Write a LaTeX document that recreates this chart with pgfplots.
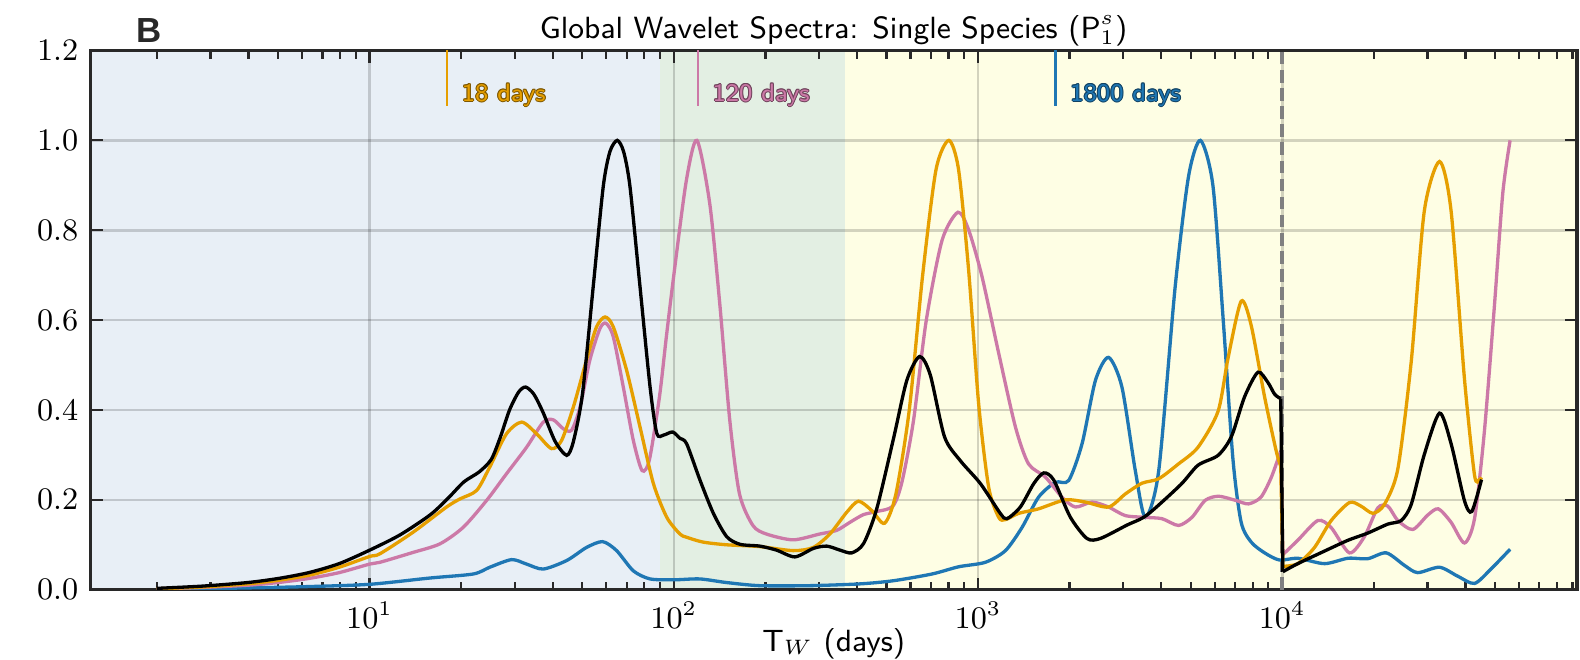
\documentclass[border=0pt]{standalone}
\usepackage{fontspec}
\usepackage{pgfplots}
\usepackage{pgfplotstable}
\pgfplotsset{compat=1.18}
\newfontfamily\panelfont{Liberation Sans}

\definecolor{corange}{RGB}{230,159,0}
\definecolor{cpink}{RGB}{204,121,167}
\definecolor{cblue}{RGB}{31,119,180}
\definecolor{bgblue}{RGB}{232,239,246}
\definecolor{bggreen}{RGB}{227,239,227}
\definecolor{bgyellow}{RGB}{254,254,228}
\definecolor{framec}{RGB}{40,40,40}

% columns: log10 of period (days), normalised power
% each series is split at 10^4, where the spectra jump
\pgfplotstableread{
lgT v
0.30 0.003
0.45 0.008
0.60 0.016
0.70 0.025
0.80 0.038
0.90 0.058
1.00 0.088
1.10 0.122
1.20 0.167
1.26 0.205
1.31 0.240
1.36 0.262
1.40 0.290
1.43 0.340
1.46 0.400
1.49 0.440
1.513 0.451
1.54 0.435
1.57 0.395
1.61 0.330
1.648 0.299
1.67 0.330
1.70 0.437
1.735 0.674
1.768 0.897
1.79 0.975
1.814 1.0
1.835 0.975
1.856 0.897
1.889 0.674
1.922 0.451
1.944 0.348
1.966 0.344
1.996 0.351
2.02 0.337
2.042 0.325
2.086 0.244
2.13 0.170
2.174 0.118
2.218 0.101
2.283 0.097
2.338 0.088
2.398 0.073
2.459 0.092
2.503 0.097
2.547 0.088
2.585 0.082
2.624 0.103
2.667 0.180
2.722 0.336
2.766 0.466
2.808 0.519
2.843 0.478
2.89 0.340
2.942 0.287
3.008 0.236
3.073 0.170
3.095 0.158
3.139 0.184
3.183 0.236
3.216 0.260
3.249 0.244
3.303 0.162
3.358 0.114
3.402 0.114
3.49 0.144
3.555 0.166
3.665 0.233
3.723 0.277
3.789 0.299
3.833 0.341
3.876 0.429
3.92 0.484
3.953 0.461
3.975 0.435
3.995 0.425
}\blackA
\pgfplotstableread{
lgT v
4.002 0.040
4.051 0.058
4.139 0.086
4.216 0.110
4.281 0.126
4.347 0.146
4.391 0.154
4.424 0.190
4.467 0.301
4.517 0.393
4.555 0.325
4.599 0.198
4.623 0.174
4.655 0.245
}\blackB

\pgfplotstableread{
lgT v
0.30 0.002
0.45 0.006
0.60 0.013
0.70 0.021
0.80 0.032
0.90 0.050
1.00 0.074
1.034 0.080
1.143 0.128
1.253 0.184
1.297 0.202
1.352 0.221
1.395 0.273
1.45 0.347
1.50 0.373
1.549 0.347
1.598 0.314
1.631 0.332
1.67 0.407
1.713 0.511
1.746 0.585
1.774 0.607
1.801 0.585
1.845 0.488
1.889 0.362
1.933 0.236
1.977 0.161
2.02 0.124
2.041 0.117
2.096 0.106
2.173 0.100
2.282 0.096
2.392 0.087
2.458 0.094
2.513 0.124
2.568 0.172
2.607 0.197
2.651 0.176
2.693 0.148
2.73 0.213
2.774 0.400
2.818 0.700
2.862 0.935
2.904 1.0
2.936 0.935
2.969 0.712
3.002 0.414
3.035 0.228
3.068 0.161
3.09 0.156
3.134 0.170
3.199 0.180
3.287 0.200
3.353 0.195
3.429 0.184
3.484 0.213
3.539 0.237
3.594 0.247
3.659 0.280
3.723 0.317
3.789 0.397
3.822 0.516
3.865 0.642
3.898 0.588
3.942 0.429
3.98 0.309
3.995 0.275
}\orangeA
\pgfplotstableread{
lgT v
4.002 0.052
4.051 0.058
4.106 0.094
4.161 0.154
4.221 0.194
4.259 0.186
4.298 0.170
4.336 0.190
4.38 0.269
4.424 0.508
4.467 0.843
4.517 0.953
4.555 0.843
4.599 0.469
4.632 0.255
4.648 0.245
4.655 0.250
}\orangeB

\pgfplotstableread{
lgT v
0.30 0.002
0.45 0.005
0.60 0.010
0.70 0.016
0.80 0.025
0.90 0.038
1.00 0.057
1.034 0.061
1.143 0.083
1.231 0.102
1.308 0.139
1.385 0.199
1.45 0.258
1.516 0.317
1.571 0.373
1.604 0.378
1.637 0.358
1.664 0.355
1.692 0.407
1.724 0.511
1.757 0.581
1.777 0.593
1.801 0.563
1.834 0.451
1.867 0.332
1.896 0.265
1.92 0.290
1.953 0.430
1.975 0.560
2.0 0.700
2.041 0.910
2.076 1.0
2.118 0.860
2.151 0.637
2.184 0.377
2.216 0.213
2.26 0.143
2.304 0.124
2.392 0.111
2.48 0.124
2.535 0.132
2.579 0.150
2.623 0.167
2.667 0.174
2.72 0.186
2.75 0.240
2.788 0.377
2.83 0.600
2.882 0.778
2.934 0.840
2.969 0.801
3.013 0.697
3.068 0.526
3.123 0.362
3.166 0.280
3.221 0.251
3.276 0.206
3.32 0.184
3.375 0.195
3.429 0.184
3.484 0.165
3.55 0.161
3.605 0.158
3.659 0.143
3.703 0.161
3.747 0.199
3.791 0.208
3.846 0.199
3.889 0.191
3.93 0.206
3.964 0.250
3.995 0.309
}\pinkA
\pgfplotstableread{
lgT v
4.002 0.078
4.051 0.110
4.117 0.154
4.161 0.138
4.221 0.082
4.27 0.118
4.314 0.182
4.347 0.186
4.38 0.154
4.429 0.134
4.478 0.166
4.513 0.180
4.555 0.150
4.599 0.104
4.632 0.158
4.664 0.349
4.697 0.628
4.725 0.883
4.749 1.0
}\pinkB

\pgfplotstableread{
lgT v
0.30 0.001
0.60 0.004
0.80 0.007
1.00 0.012
1.198 0.026
1.341 0.035
1.395 0.050
1.467 0.067
1.516 0.057
1.571 0.046
1.648 0.065
1.713 0.094
1.766 0.107
1.812 0.087
1.867 0.042
1.922 0.024
2.0 0.022
2.085 0.024
2.173 0.016
2.282 0.009
2.447 0.009
2.612 0.013
2.722 0.020
2.849 0.035
2.936 0.051
3.024 0.061
3.09 0.087
3.145 0.139
3.199 0.206
3.254 0.239
3.298 0.243
3.342 0.325
3.386 0.466
3.429 0.517
3.473 0.451
3.517 0.265
3.55 0.161
3.594 0.265
3.648 0.674
3.692 0.920
3.731 1.0
3.772 0.900
3.806 0.600
3.838 0.290
3.865 0.150
3.898 0.106
3.942 0.082
3.991 0.066
4.051 0.070
4.139 0.058
4.216 0.070
4.281 0.069
4.342 0.082
4.402 0.054
4.445 0.038
4.517 0.050
4.577 0.030
4.632 0.014
4.686 0.046
4.749 0.090
}\bluedata

% text with a darker outline, placed at a named coordinate
\newcommand{\annot}[4]{%
  \foreach \dx/\dy in {0.28/0,-0.28/0,0/0.28,0/-0.28,0.2/0.2,-0.2/0.2,0.2/-0.2,-0.2/-0.2}{%
    \node[anchor=base west, inner sep=0pt, xshift=4pt+\dx pt, yshift=\dy pt, text=#3, font=\fontsize{7.2}{8}\selectfont\sffamily] at (#1) {#4};}%
  \node[anchor=base west, inner sep=0pt, xshift=4pt, text=#2, font=\fontsize{7.2}{8}\selectfont\sffamily] at (#1) {#4};}

\begin{document}
\begin{tikzpicture}
\begin{axis}[
  set layers,
  scale only axis,
  width=426.7pt, height=154.8pt,
  xmode=log,
  xmin=1.21, xmax=93000,
  ymin=0, ymax=1.2,
  xtick={10,100,1000,10000},
  minor xtick={2,3,4,5,6,7,8,9,20,30,40,50,60,70,80,90,200,300,400,500,600,700,800,900,2000,3000,4000,5000,6000,7000,8000,9000,20000,30000,40000,50000,60000,70000,80000,90000},
  ytick={0,0.2,0.4,0.6,0.8,1.0,1.2},
  yticklabel style={/pgf/number format/.cd, fixed, fixed zerofill, precision=1},
  grid=major,
  major grid style={black, opacity=0.17, line width=0.75pt},
  tick align=inside,
  major tick length=3.5pt,
  minor tick length=2.3pt,
  every tick/.style={framec, line width=0.65pt},
  axis line style={framec, line width=1.0pt},
  tick label style={font=\fontsize{9}{10}\selectfont},
  xlabel={T$_W$ (days)},
  xlabel style={font=\fontsize{8.8}{10}\selectfont\sffamily, inner sep=0pt, at={(axis description cs:0.5,0)}, anchor=base, yshift=-17.6pt},
  every axis plot/.append style={line width=0.95pt, smooth, tension=0.45},
]
\pgfonlayer{axis background}
\fill[bgblue] (axis cs:1.21,0) rectangle (axis cs:90,1.2);
\fill[bggreen] (axis cs:90,0) rectangle (axis cs:365,1.2);
\fill[bgyellow] (axis cs:365,0) rectangle (axis cs:93000,1.2);
\endpgfonlayer

\draw[gray, line width=1.2pt, dash pattern=on 3.6pt off 1.6pt] (axis cs:10000,0) -- (axis cs:10000,1.2);

\addplot[cblue] table[x expr=10^\thisrow{lgT}, y=v] {\bluedata};
\addplot[cpink] table[x expr=10^\thisrow{lgT}, y=v] {\pinkA};
\addplot[cpink] table[x expr=10^\thisrow{lgT}, y=v] {\pinkB};
\addplot[cpink, sharp plot] coordinates {(9886,0.309) (10046,0.078)};
\addplot[corange] table[x expr=10^\thisrow{lgT}, y=v] {\orangeA};
\addplot[corange] table[x expr=10^\thisrow{lgT}, y=v] {\orangeB};
\addplot[corange, sharp plot] coordinates {(9886,0.275) (10046,0.052)};
\addplot[black] table[x expr=10^\thisrow{lgT}, y=v] {\blackA};
\addplot[black] table[x expr=10^\thisrow{lgT}, y=v] {\blackB};
\addplot[black, sharp plot] coordinates {(9886,0.425) (10046,0.040)};

\draw[corange, line width=0.7pt] (axis cs:18,1.2) -- (axis cs:18,1.076);
\draw[cpink, line width=0.7pt] (axis cs:120,1.2) -- (axis cs:120,1.076);
\draw[cblue, line width=0.7pt] (axis cs:1800,1.2) -- (axis cs:1800,1.076);
\coordinate (a18) at (axis cs:18,1.087);
\coordinate (a120) at (axis cs:120,1.087);
\coordinate (a1800) at (axis cs:1800,1.087);
\end{axis}
\annot{a18}{corange}{corange!55!black}{18 days}
\annot{a120}{cpink}{cpink!55!black}{120 days}
\annot{a1800}{cblue}{cblue!55!black}{1800 days}
\node[anchor=base, inner sep=0pt, yshift=3.5pt, font=\fontsize{8.8}{10}\selectfont\sffamily] at (current axis.north) {Global Wavelet Spectra: Single Species (P$_1^s$)};
\node[anchor=base west, inner sep=0pt, xshift=13pt, yshift=2.3pt, text=framec, font=\fontsize{10}{12}\selectfont\panelfont\bfseries] at (current axis.north west) {B};
\path ([xshift=-26pt,yshift=-20pt]current axis.south west) rectangle ([xshift=0.9pt,yshift=14.5pt]current axis.north east);
\end{tikzpicture}
\end{document}
